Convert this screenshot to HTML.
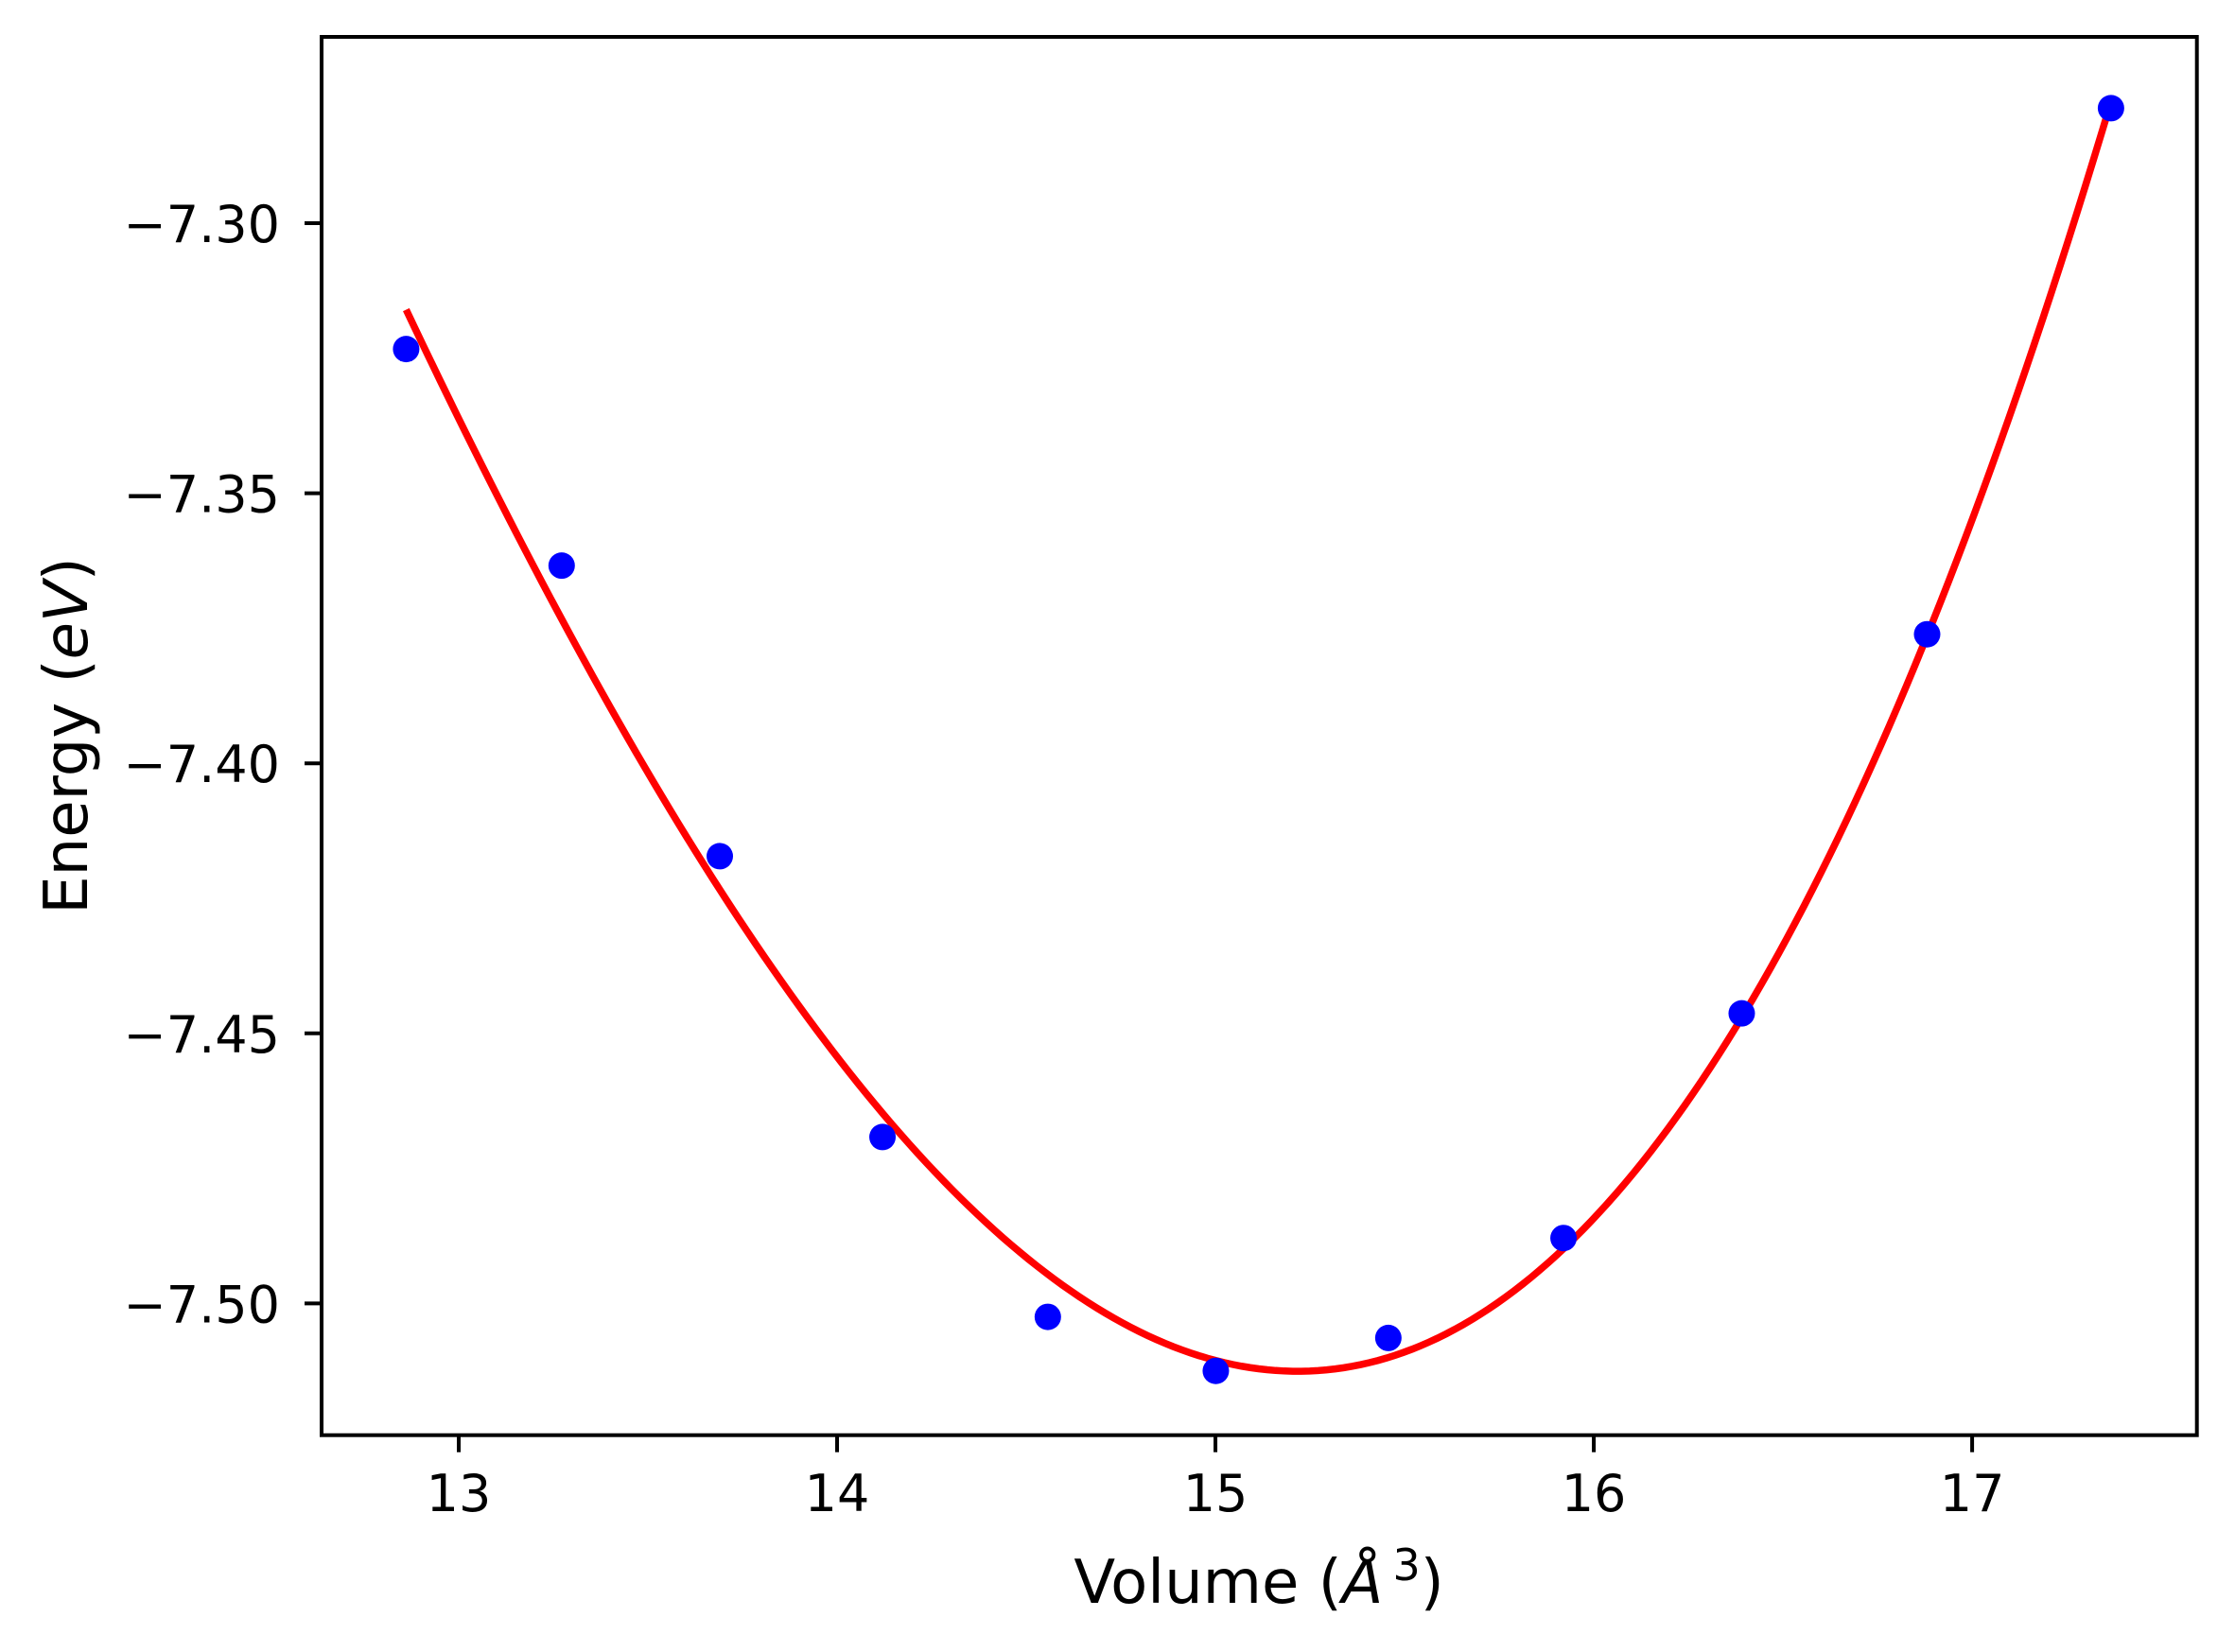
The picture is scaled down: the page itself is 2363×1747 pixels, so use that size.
<!DOCTYPE html>
<html><head><meta charset="utf-8"><style>
html,body{margin:0;padding:0;background:#fff;}
svg{display:block;font-family:"DejaVu Sans","Liberation Sans",sans-serif;}
</style></head><body>
<svg id="chart" width="2363" height="1747" viewBox="0 0 2363 1747" xmlns="http://www.w3.org/2000/svg">
<rect x="0" y="0" width="2363" height="1747" fill="#fff"/>
<g id="marks"></g>
<rect x="340" y="39" width="1982.7" height="1478.7" fill="none" stroke="#000" stroke-width="4"/>
<g id="ticks"></g>
<text x="1331" y="1695" font-size="64" text-anchor="middle">Volume (<tspan font-style="italic">Å</tspan><tspan font-size="46" dx="10" dy="-24">3</tspan><tspan dy="24">)</tspan></text>
<text transform="translate(92,778) rotate(-90)" font-size="64" text-anchor="middle">Energy (<tspan font-style="italic">eV</tspan>)</text>
</svg>
<script>
const volumes = [12.861, 13.272, 13.690, 14.120, 14.557, 15.001, 15.457, 15.920, 16.391, 16.881, 17.367];
const energies = [-7.3233, -7.3634, -7.4172, -7.4692, -7.5025, -7.5125, -7.5064, -7.4879, -7.4463, -7.3761, -7.2787];
const xTicks = [13, 14, 15, 16, 17];
const yTicks = [-7.30, -7.35, -7.40, -7.45, -7.50];

const NS = "http://www.w3.org/2000/svg";
const L = 340, R = 2322.7, T = 39, B = 1517.7;
const xMin = 12.6375, xMax = 17.594, yMin = -7.5244, yMax = -7.2655;
function sx(v){ return L + (v - xMin) / (xMax - xMin) * (R - L); }
function sy(v){ return B - (v - yMin) / (yMax - yMin) * (B - T); }

function fit(xs, ys, deg){
  const n = deg + 1, m = [];
  const x0 = 15;
  for (let i = 0; i < n; i++){ m.push(new Array(n + 1).fill(0)); }
  for (let k = 0; k < xs.length; k++){
    const x = xs[k] - x0;
    for (let i = 0; i < n; i++){
      for (let j = 0; j < n; j++) m[i][j] += Math.pow(x, i + j);
      m[i][n] += ys[k] * Math.pow(x, i);
    }
  }
  for (let i = 0; i < n; i++){
    let p = i;
    for (let r = i + 1; r < n; r++) if (Math.abs(m[r][i]) > Math.abs(m[p][i])) p = r;
    [m[i], m[p]] = [m[p], m[i]];
    for (let r = 0; r < n; r++){
      if (r === i) continue;
      const f = m[r][i] / m[i][i];
      for (let c = i; c <= n; c++) m[r][c] -= f * m[i][c];
    }
  }
  const coef = m.map((row, i) => row[n] / row[i]);
  return x => coef.reduce((s, c, i) => s + c * Math.pow(x - x0, i), 0);
}
const f = fit(volumes, energies, 3);
const marks = document.getElementById("marks");
const vMin = Math.min(...volumes), vMax = Math.max(...volumes);
let d = "";
for (let i = 0; i <= 200; i++){
  const v = vMin + (vMax - vMin) * i / 200;
  d += (i ? "L" : "M") + sx(v).toFixed(2) + "," + sy(f(v)).toFixed(2);
}
const path = document.createElementNS(NS, "path");


path.setAttribute("d", d);
path.setAttribute("fill", "none");
path.setAttribute("stroke", "#ff0000");
path.setAttribute("stroke-width", "7.5");
marks.appendChild(path);
volumes.forEach((v, i) => {
  const c = document.createElementNS(NS, "circle");
  
  
  c.setAttribute("cx", sx(v));
  c.setAttribute("cy", sy(energies[i]));
  c.setAttribute("r", "14");
  c.setAttribute("fill", "#0000ff");
  marks.appendChild(c);
});
const ticks = document.getElementById("ticks");
xTicks.forEach(t => {
  const x = sx(t);
  const ln = document.createElementNS(NS, "line");
  
  
  ln.setAttribute("x1", x); ln.setAttribute("x2", x);
  ln.setAttribute("y1", B); ln.setAttribute("y2", B + 18);
  ln.setAttribute("stroke", "#000"); ln.setAttribute("stroke-width", "4");
  ticks.appendChild(ln);
  const tx = document.createElementNS(NS, "text");
  
  
  tx.setAttribute("x", x); tx.setAttribute("y", 1598);
  tx.setAttribute("font-size", "54"); tx.setAttribute("text-anchor", "middle");
  tx.textContent = String(t);
  ticks.appendChild(tx);
});
yTicks.forEach(t => {
  const y = sy(t);
  const ln = document.createElementNS(NS, "line");
  
  
  ln.setAttribute("x1", L - 18); ln.setAttribute("x2", L);
  ln.setAttribute("y1", y); ln.setAttribute("y2", y);
  ln.setAttribute("stroke", "#000"); ln.setAttribute("stroke-width", "4");
  ticks.appendChild(ln);
  const tx = document.createElementNS(NS, "text");
  
  
  tx.setAttribute("x", 296); tx.setAttribute("y", y + 20);
  tx.setAttribute("font-size", "54"); tx.setAttribute("text-anchor", "end");
  tx.textContent = "\u2212" + Math.abs(t).toFixed(2);
  ticks.appendChild(tx);
});
</script>
</body></html>
